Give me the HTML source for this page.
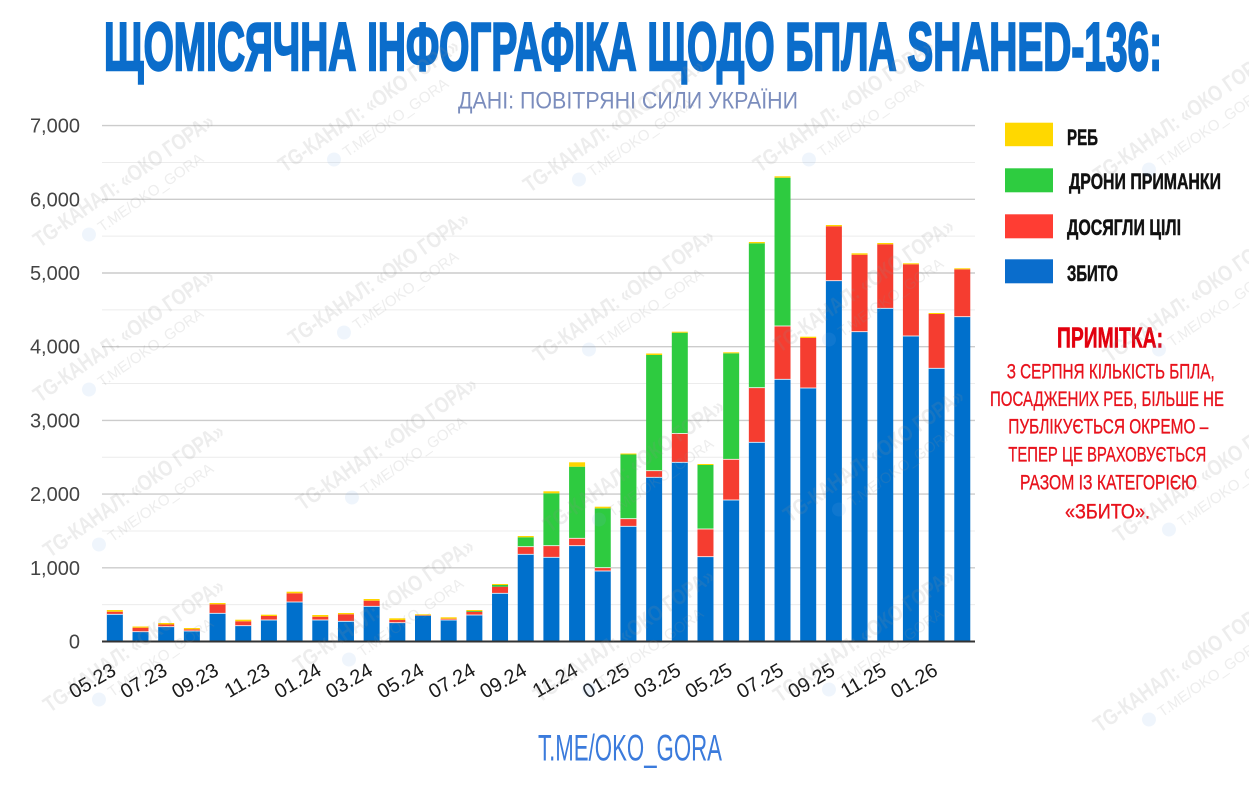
<!DOCTYPE html>
<html>
<head>
<meta charset="utf-8">
<style>
html,body{margin:0;padding:0;background:#fff;}
svg{display:block;}
.ax{font-family:"Liberation Sans",Arial,sans-serif;}
.cy{font-family:"Liberation Sans","Noto Sans CJK SC",sans-serif;}
</style>
</head>
<body>
<svg width="1249" height="785" viewBox="0 0 1249 785" xmlns="http://www.w3.org/2000/svg">
<rect width="1249" height="785" fill="#fff"/>

<!-- Title -->
<text class="cy" x="104" y="70" font-size="68" font-weight="bold" fill="#0b6dcb" stroke="#0b6dcb" stroke-width="2.4" textLength="1058" lengthAdjust="spacingAndGlyphs">ЩОМІСЯЧНА ІНФОГРАФІКА ЩОДО БПЛА SHAHED-136:</text>
<text class="cy" x="458" y="108.5" font-size="24" fill="#7b8dbd" textLength="340" lengthAdjust="spacingAndGlyphs">ДАНІ: ПОВІТРЯНІ СИЛИ УКРАЇНИ</text>

<!-- minor gridlines -->
<g stroke="#ececec" stroke-width="1">
<line x1="102" x2="975" y1="604.65" y2="604.65"/>
<line x1="102" x2="975" y1="530.95" y2="530.95"/>
<line x1="102" x2="975" y1="457.25" y2="457.25"/>
<line x1="102" x2="975" y1="383.55" y2="383.55"/>
<line x1="102" x2="975" y1="309.85" y2="309.85"/>
<line x1="102" x2="975" y1="236.15" y2="236.15"/>
<line x1="102" x2="975" y1="162.45" y2="162.45"/>
</g>
<!-- major gridlines -->
<g stroke="#cccccc" stroke-width="1.4">
<line x1="102" x2="975" y1="567.8" y2="567.8"/>
<line x1="102" x2="975" y1="494.1" y2="494.1"/>
<line x1="102" x2="975" y1="420.4" y2="420.4"/>
<line x1="102" x2="975" y1="346.7" y2="346.7"/>
<line x1="102" x2="975" y1="273" y2="273"/>
<line x1="102" x2="975" y1="199.3" y2="199.3"/>
<line x1="102" x2="975" y1="125.6" y2="125.6"/>
</g>

<!-- y labels -->
<g class="ax" font-size="20" fill="#444" text-anchor="end">
<text x="80" y="648.5">0</text>
<text x="80" y="574.8">1,000</text>
<text x="80" y="501.1">2,000</text>
<text x="80" y="427.4">3,000</text>
<text x="80" y="353.7">4,000</text>
<text x="80" y="280">5,000</text>
<text x="80" y="206.3">6,000</text>
<text x="80" y="132.6">7,000</text>
</g>

<!-- blue -->
<g fill="#0070cc">
<rect x="106.84" y="614.3" width="16" height="27.2"/>
<rect x="132.52" y="631.7" width="16" height="9.8"/>
<rect x="158.2" y="626.7" width="16" height="14.8"/>
<rect x="183.88" y="631" width="16" height="10.5"/>
<rect x="209.56" y="613.3" width="16" height="28.2"/>
<rect x="235.24" y="625.7" width="16" height="15.8"/>
<rect x="260.92" y="620" width="16" height="21.5"/>
<rect x="286.6" y="602" width="16" height="39.5"/>
<rect x="312.28" y="620" width="16" height="21.5"/>
<rect x="337.96" y="621.3" width="16" height="20.2"/>
<rect x="363.64" y="606.3" width="16" height="35.2"/>
<rect x="389.32" y="622.7" width="16" height="18.8"/>
<rect x="415" y="615.7" width="16" height="25.8"/>
<rect x="440.68" y="620" width="16" height="21.5"/>
<rect x="466.36" y="615" width="16" height="26.5"/>
<rect x="492.04" y="593.3" width="16" height="48.2"/>
<rect x="517.72" y="554.3" width="16" height="87.2"/>
<rect x="543.4" y="557.3" width="16" height="84.2"/>
<rect x="569.08" y="545.7" width="16" height="95.8"/>
<rect x="594.76" y="571" width="16" height="70.5"/>
<rect x="620.44" y="526.3" width="16" height="115.2"/>
<rect x="646.12" y="477.3" width="16" height="164.2"/>
<rect x="671.8" y="462.3" width="16" height="179.2"/>
<rect x="697.48" y="556.7" width="16" height="84.8"/>
<rect x="723.16" y="500" width="16" height="141.5"/>
<rect x="748.84" y="442.3" width="16" height="199.2"/>
<rect x="774.52" y="379.3" width="16" height="262.2"/>
<rect x="800.2" y="388" width="16" height="253.5"/>
<rect x="825.88" y="280.7" width="16" height="360.8"/>
<rect x="851.56" y="331.7" width="16" height="309.8"/>
<rect x="877.24" y="308.3" width="16" height="333.2"/>
<rect x="902.92" y="336" width="16" height="305.5"/>
<rect x="928.6" y="368.3" width="16" height="273.2"/>
<rect x="954.28" y="316.7" width="16" height="324.8"/>
</g>

<!-- red -->
<g fill="#f53d30">
<rect x="106.84" y="611.7" width="16" height="2.6"/>
<rect x="132.52" y="627.7" width="16" height="4"/>
<rect x="158.2" y="624.5" width="16" height="2.2"/>
<rect x="183.88" y="629.3" width="16" height="1.7"/>
<rect x="209.56" y="604.3" width="16" height="9"/>
<rect x="235.24" y="621.3" width="16" height="4.4"/>
<rect x="260.92" y="616" width="16" height="4"/>
<rect x="286.6" y="593.3" width="16" height="8.7"/>
<rect x="312.28" y="616.7" width="16" height="3.3"/>
<rect x="337.96" y="614.3" width="16" height="7"/>
<rect x="363.64" y="600.7" width="16" height="5.6"/>
<rect x="389.32" y="620" width="16" height="2.7"/>
<rect x="415" y="615.2" width="16" height="0.5"/>
<rect x="440.68" y="618.7" width="16" height="1.3"/>
<rect x="466.36" y="611.7" width="16" height="3.3"/>
<rect x="492.04" y="586.7" width="16" height="6.6"/>
<rect x="517.72" y="546.7" width="16" height="7.6"/>
<rect x="543.4" y="545.7" width="16" height="11.6"/>
<rect x="569.08" y="538.3" width="16" height="7.4"/>
<rect x="594.76" y="567.7" width="16" height="3.3"/>
<rect x="620.44" y="518.7" width="16" height="7.6"/>
<rect x="646.12" y="470.7" width="16" height="6.6"/>
<rect x="671.8" y="433.5" width="16" height="28.8"/>
<rect x="697.48" y="529" width="16" height="27.7"/>
<rect x="723.16" y="459.3" width="16" height="40.7"/>
<rect x="748.84" y="387.7" width="16" height="54.6"/>
<rect x="774.52" y="326" width="16" height="53.3"/>
<rect x="800.2" y="338" width="16" height="50"/>
<rect x="825.88" y="226.3" width="16" height="54.4"/>
<rect x="851.56" y="254.7" width="16" height="77"/>
<rect x="877.24" y="244.3" width="16" height="64"/>
<rect x="902.92" y="264.3" width="16" height="71.7"/>
<rect x="928.6" y="314" width="16" height="54.3"/>
<rect x="954.28" y="269.3" width="16" height="47.4"/>
</g>

<!-- green -->
<g fill="#2ecb40">
<rect x="466.36" y="611" width="16" height="0.7"/>
<rect x="492.04" y="585" width="16" height="1.7"/>
<rect x="517.72" y="537.3" width="16" height="9.4"/>
<rect x="543.4" y="493.3" width="16" height="52.4"/>
<rect x="569.08" y="466.7" width="16" height="71.6"/>
<rect x="594.76" y="508.3" width="16" height="59.4"/>
<rect x="620.44" y="454.5" width="16" height="64.2"/>
<rect x="646.12" y="355" width="16" height="115.7"/>
<rect x="671.8" y="332.7" width="16" height="100.8"/>
<rect x="697.48" y="465" width="16" height="64"/>
<rect x="723.16" y="353.3" width="16" height="106"/>
<rect x="748.84" y="243.3" width="16" height="144.4"/>
<rect x="774.52" y="177.7" width="16" height="148.3"/>
</g>

<!-- yellow -->
<g fill="#ffd500">
<rect x="106.84" y="610" width="16" height="1.7"/>
<rect x="132.52" y="626.5" width="16" height="1.2"/>
<rect x="158.2" y="623" width="16" height="1.5"/>
<rect x="183.88" y="628" width="16" height="1.3"/>
<rect x="209.56" y="603" width="16" height="1.3"/>
<rect x="235.24" y="619.7" width="16" height="1.6"/>
<rect x="260.92" y="614.7" width="16" height="1.3"/>
<rect x="286.6" y="591.7" width="16" height="1.6"/>
<rect x="312.28" y="615" width="16" height="1.7"/>
<rect x="337.96" y="613" width="16" height="1.3"/>
<rect x="363.64" y="599" width="16" height="1.7"/>
<rect x="389.32" y="618.3" width="16" height="1.7"/>
<rect x="415" y="614.3" width="16" height="0.9"/>
<rect x="440.68" y="617.3" width="16" height="1.4"/>
<rect x="466.36" y="610" width="16" height="1"/>
<rect x="492.04" y="584" width="16" height="1"/>
<rect x="517.72" y="536" width="16" height="1.3"/>
<rect x="543.4" y="491.3" width="16" height="2"/>
<rect x="569.08" y="462.3" width="16" height="4.4"/>
<rect x="594.76" y="506.7" width="16" height="1.6"/>
<rect x="620.44" y="453.5" width="16" height="1"/>
<rect x="646.12" y="353.5" width="16" height="1.5"/>
<rect x="671.8" y="331.7" width="16" height="1"/>
<rect x="697.48" y="464" width="16" height="1"/>
<rect x="723.16" y="352.3" width="16" height="1"/>
<rect x="748.84" y="242" width="16" height="1.3"/>
<rect x="774.52" y="176.3" width="16" height="1.4"/>
<rect x="800.2" y="336.7" width="16" height="1.3"/>
<rect x="825.88" y="225" width="16" height="1.3"/>
<rect x="851.56" y="253.3" width="16" height="1.4"/>
<rect x="877.24" y="243" width="16" height="1.3"/>
<rect x="902.92" y="263.3" width="16" height="1"/>
<rect x="928.6" y="313" width="16" height="1"/>
<rect x="954.28" y="268.3" width="16" height="1"/>
</g>

<!-- white separators -->
<g fill="#fff">
<rect x="106.84" y="613.9" width="16" height="0.8"/>
<rect x="132.52" y="631.3" width="16" height="0.8"/>
<rect x="158.2" y="626.3" width="16" height="0.8"/>
<rect x="183.88" y="630.6" width="16" height="0.8"/>
<rect x="209.56" y="612.9" width="16" height="0.8"/>
<rect x="235.24" y="625.3" width="16" height="0.8"/>
<rect x="260.92" y="619.6" width="16" height="0.8"/>
<rect x="286.6" y="601.6" width="16" height="0.8"/>
<rect x="312.28" y="619.6" width="16" height="0.8"/>
<rect x="337.96" y="620.9" width="16" height="0.8"/>
<rect x="363.64" y="605.9" width="16" height="0.8"/>
<rect x="389.32" y="622.3" width="16" height="0.8"/>
<rect x="440.68" y="619.6" width="16" height="0.8"/>
<rect x="466.36" y="614.6" width="16" height="0.8"/>
<rect x="492.04" y="592.9" width="16" height="0.8"/>
<rect x="517.72" y="553.9" width="16" height="0.8"/>
<rect x="543.4" y="556.9" width="16" height="0.8"/>
<rect x="569.08" y="545.3" width="16" height="0.8"/>
<rect x="594.76" y="570.6" width="16" height="0.8"/>
<rect x="620.44" y="525.9" width="16" height="0.8"/>
<rect x="646.12" y="476.9" width="16" height="0.8"/>
<rect x="671.8" y="461.9" width="16" height="0.8"/>
<rect x="697.48" y="556.3" width="16" height="0.8"/>
<rect x="723.16" y="499.6" width="16" height="0.8"/>
<rect x="748.84" y="441.9" width="16" height="0.8"/>
<rect x="774.52" y="378.9" width="16" height="0.8"/>
<rect x="800.2" y="387.6" width="16" height="0.8"/>
<rect x="825.88" y="280.3" width="16" height="0.8"/>
<rect x="851.56" y="331.3" width="16" height="0.8"/>
<rect x="877.24" y="307.9" width="16" height="0.8"/>
<rect x="902.92" y="335.6" width="16" height="0.8"/>
<rect x="928.6" y="367.9" width="16" height="0.8"/>
<rect x="954.28" y="316.3" width="16" height="0.8"/>
<rect x="517.72" y="546.3" width="16" height="0.8"/>
<rect x="543.4" y="545.3" width="16" height="0.8"/>
<rect x="569.08" y="537.9" width="16" height="0.8"/>
<rect x="594.76" y="567.3" width="16" height="0.8"/>
<rect x="620.44" y="518.3" width="16" height="0.8"/>
<rect x="646.12" y="470.3" width="16" height="0.8"/>
<rect x="671.8" y="433.1" width="16" height="0.8"/>
<rect x="697.48" y="528.6" width="16" height="0.8"/>
<rect x="723.16" y="458.9" width="16" height="0.8"/>
<rect x="748.84" y="387.3" width="16" height="0.8"/>
<rect x="774.52" y="325.6" width="16" height="0.8"/>
</g>

<!-- baseline -->
<line x1="102" x2="975" y1="641.5" y2="641.5" stroke="#333" stroke-width="2"/>

<!-- x labels -->
<g class="ax" font-size="20" fill="#1a1a1a" text-anchor="end">
<text transform="translate(117.34,674) rotate(-30)">05.23</text>
<text transform="translate(168.7,674) rotate(-30)">07.23</text>
<text transform="translate(220.06,674) rotate(-30)">09.23</text>
<text transform="translate(271.42,674) rotate(-30)">11.23</text>
<text transform="translate(322.78,674) rotate(-30)">01.24</text>
<text transform="translate(374.14,674) rotate(-30)">03.24</text>
<text transform="translate(425.5,674) rotate(-30)">05.24</text>
<text transform="translate(476.86,674) rotate(-30)">07.24</text>
<text transform="translate(528.22,674) rotate(-30)">09.24</text>
<text transform="translate(579.58,674) rotate(-30)">11.24</text>
<text transform="translate(630.94,674) rotate(-30)">01.25</text>
<text transform="translate(682.3,674) rotate(-30)">03.25</text>
<text transform="translate(733.66,674) rotate(-30)">05.25</text>
<text transform="translate(785.02,674) rotate(-30)">07.25</text>
<text transform="translate(836.38,674) rotate(-30)">09.25</text>
<text transform="translate(887.74,674) rotate(-30)">11.25</text>
<text transform="translate(939.1,674) rotate(-30)">01.26</text>
</g>

<!-- legend -->
<rect x="1005" y="122.7" width="48" height="23.5" fill="#ffd800"/>
<rect x="1005" y="168.3" width="48" height="24" fill="#2ecc40"/>
<rect x="1005" y="214.3" width="48" height="24" fill="#ff3d33"/>
<rect x="1005" y="259.3" width="48" height="24" fill="#0a6dcc"/>
<g class="cy" font-size="22" font-weight="bold" fill="#111" stroke="#111" stroke-width="0.5">
<text x="1067" y="145" textLength="31" lengthAdjust="spacingAndGlyphs">РЕБ</text>
<text x="1069" y="189" textLength="152" lengthAdjust="spacingAndGlyphs">ДРОНИ ПРИМАНКИ</text>
<text x="1067" y="235" textLength="114" lengthAdjust="spacingAndGlyphs">ДОСЯГЛИ ЦІЛІ</text>
<text x="1067" y="281" textLength="51" lengthAdjust="spacingAndGlyphs">ЗБИТО</text>
</g>

<!-- note -->
<text class="cy" x="1057" y="347.7" font-size="29" font-weight="bold" fill="#e2000e" stroke="#e2000e" stroke-width="0.6" textLength="106" lengthAdjust="spacingAndGlyphs">ПРИМІТКА:</text>
<g class="cy" font-size="21" fill="#e8121c" stroke="#e8121c" stroke-width="0.35">
<text x="1006.7" y="378.3" textLength="208" lengthAdjust="spacingAndGlyphs">З СЕРПНЯ КІЛЬКІСТЬ БПЛА,</text>
<text x="990" y="406" textLength="234" lengthAdjust="spacingAndGlyphs">ПОСАДЖЕНИХ РЕБ, БІЛЬШЕ НЕ</text>
<text x="1008.3" y="433.3" textLength="200" lengthAdjust="spacingAndGlyphs">ПУБЛІКУЄТЬСЯ ОКРЕМО –</text>
<text x="1008.3" y="461.7" textLength="198" lengthAdjust="spacingAndGlyphs">ТЕПЕР ЦЕ ВРАХОВУЄТЬСЯ</text>
<text x="1020" y="489.3" textLength="177" lengthAdjust="spacingAndGlyphs">РАЗОМ ІЗ КАТЕГОРІЄЮ</text>
<text x="1065" y="518.3" textLength="85" lengthAdjust="spacingAndGlyphs">«ЗБИТО».</text>
</g>

<!-- footer -->
<text class="cy" x="538" y="760.5" font-size="37" fill="#3b7bdc" textLength="184" lengthAdjust="spacingAndGlyphs">T.ME/OKO_GORA</text>

<!-- watermarks -->
<g class="cy" fill="rgba(140,140,140,0.16)">
<g transform="translate(130,185) rotate(-35)"><text x="-110" y="0" font-size="22" font-weight="bold" textLength="215" lengthAdjust="spacingAndGlyphs">TG-КАНАЛ: «ОКО ГОРА»</text><circle cx="-62" cy="17" r="7" fill="rgba(120,170,230,0.12)"/><text x="-50" y="23" font-size="15" textLength="125" lengthAdjust="spacingAndGlyphs">T.ME/OKO_GORA</text></g>
<g transform="translate(130,340) rotate(-35)"><text x="-110" y="0" font-size="22" font-weight="bold" textLength="215" lengthAdjust="spacingAndGlyphs">TG-КАНАЛ: «ОКО ГОРА»</text><circle cx="-62" cy="17" r="7" fill="rgba(120,170,230,0.12)"/><text x="-50" y="23" font-size="15" textLength="125" lengthAdjust="spacingAndGlyphs">T.ME/OKO_GORA</text></g>
<g transform="translate(140,495) rotate(-35)"><text x="-110" y="0" font-size="22" font-weight="bold" textLength="215" lengthAdjust="spacingAndGlyphs">TG-КАНАЛ: «ОКО ГОРА»</text><circle cx="-62" cy="17" r="7" fill="rgba(120,170,230,0.12)"/><text x="-50" y="23" font-size="15" textLength="125" lengthAdjust="spacingAndGlyphs">T.ME/OKO_GORA</text></g>
<g transform="translate(140,650) rotate(-35)"><text x="-110" y="0" font-size="22" font-weight="bold" textLength="215" lengthAdjust="spacingAndGlyphs">TG-КАНАЛ: «ОКО ГОРА»</text><circle cx="-62" cy="17" r="7" fill="rgba(120,170,230,0.12)"/><text x="-50" y="23" font-size="15" textLength="125" lengthAdjust="spacingAndGlyphs">T.ME/OKO_GORA</text></g>
<g transform="translate(375,110) rotate(-35)"><text x="-110" y="0" font-size="22" font-weight="bold" textLength="215" lengthAdjust="spacingAndGlyphs">TG-КАНАЛ: «ОКО ГОРА»</text><circle cx="-62" cy="17" r="7" fill="rgba(120,170,230,0.12)"/><text x="-50" y="23" font-size="15" textLength="125" lengthAdjust="spacingAndGlyphs">T.ME/OKO_GORA</text></g>
<g transform="translate(385,283) rotate(-35)"><text x="-110" y="0" font-size="22" font-weight="bold" textLength="215" lengthAdjust="spacingAndGlyphs">TG-КАНАЛ: «ОКО ГОРА»</text><circle cx="-62" cy="17" r="7" fill="rgba(120,170,230,0.12)"/><text x="-50" y="23" font-size="15" textLength="125" lengthAdjust="spacingAndGlyphs">T.ME/OKO_GORA</text></g>
<g transform="translate(393,448) rotate(-35)"><text x="-110" y="0" font-size="22" font-weight="bold" textLength="215" lengthAdjust="spacingAndGlyphs">TG-КАНАЛ: «ОКО ГОРА»</text><circle cx="-62" cy="17" r="7" fill="rgba(120,170,230,0.12)"/><text x="-50" y="23" font-size="15" textLength="125" lengthAdjust="spacingAndGlyphs">T.ME/OKO_GORA</text></g>
<g transform="translate(390,610) rotate(-35)"><text x="-110" y="0" font-size="22" font-weight="bold" textLength="215" lengthAdjust="spacingAndGlyphs">TG-КАНАЛ: «ОКО ГОРА»</text><circle cx="-62" cy="17" r="7" fill="rgba(120,170,230,0.12)"/><text x="-50" y="23" font-size="15" textLength="125" lengthAdjust="spacingAndGlyphs">T.ME/OKO_GORA</text></g>
<g transform="translate(620,130) rotate(-35)"><text x="-110" y="0" font-size="22" font-weight="bold" textLength="215" lengthAdjust="spacingAndGlyphs">TG-КАНАЛ: «ОКО ГОРА»</text><circle cx="-62" cy="17" r="7" fill="rgba(120,170,230,0.12)"/><text x="-50" y="23" font-size="15" textLength="125" lengthAdjust="spacingAndGlyphs">T.ME/OKO_GORA</text></g>
<g transform="translate(630,300) rotate(-35)"><text x="-110" y="0" font-size="22" font-weight="bold" textLength="215" lengthAdjust="spacingAndGlyphs">TG-КАНАЛ: «ОКО ГОРА»</text><circle cx="-62" cy="17" r="7" fill="rgba(120,170,230,0.12)"/><text x="-50" y="23" font-size="15" textLength="125" lengthAdjust="spacingAndGlyphs">T.ME/OKO_GORA</text></g>
<g transform="translate(640,470) rotate(-35)"><text x="-110" y="0" font-size="22" font-weight="bold" textLength="215" lengthAdjust="spacingAndGlyphs">TG-КАНАЛ: «ОКО ГОРА»</text><circle cx="-62" cy="17" r="7" fill="rgba(120,170,230,0.12)"/><text x="-50" y="23" font-size="15" textLength="125" lengthAdjust="spacingAndGlyphs">T.ME/OKO_GORA</text></g>
<g transform="translate(630,640) rotate(-35)"><text x="-110" y="0" font-size="22" font-weight="bold" textLength="215" lengthAdjust="spacingAndGlyphs">TG-КАНАЛ: «ОКО ГОРА»</text><circle cx="-62" cy="17" r="7" fill="rgba(120,170,230,0.12)"/><text x="-50" y="23" font-size="15" textLength="125" lengthAdjust="spacingAndGlyphs">T.ME/OKO_GORA</text></g>
<g transform="translate(850,110) rotate(-35)"><text x="-110" y="0" font-size="22" font-weight="bold" textLength="215" lengthAdjust="spacingAndGlyphs">TG-КАНАЛ: «ОКО ГОРА»</text><circle cx="-62" cy="17" r="7" fill="rgba(120,170,230,0.12)"/><text x="-50" y="23" font-size="15" textLength="125" lengthAdjust="spacingAndGlyphs">T.ME/OKO_GORA</text></g>
<g transform="translate(870,290) rotate(-35)"><text x="-110" y="0" font-size="22" font-weight="bold" textLength="215" lengthAdjust="spacingAndGlyphs">TG-КАНАЛ: «ОКО ГОРА»</text><circle cx="-62" cy="17" r="7" fill="rgba(120,170,230,0.12)"/><text x="-50" y="23" font-size="15" textLength="125" lengthAdjust="spacingAndGlyphs">T.ME/OKO_GORA</text></g>
<g transform="translate(880,460) rotate(-35)"><text x="-110" y="0" font-size="22" font-weight="bold" textLength="215" lengthAdjust="spacingAndGlyphs">TG-КАНАЛ: «ОКО ГОРА»</text><circle cx="-62" cy="17" r="7" fill="rgba(120,170,230,0.12)"/><text x="-50" y="23" font-size="15" textLength="125" lengthAdjust="spacingAndGlyphs">T.ME/OKO_GORA</text></g>
<g transform="translate(870,640) rotate(-35)"><text x="-110" y="0" font-size="22" font-weight="bold" textLength="215" lengthAdjust="spacingAndGlyphs">TG-КАНАЛ: «ОКО ГОРА»</text><circle cx="-62" cy="17" r="7" fill="rgba(120,170,230,0.12)"/><text x="-50" y="23" font-size="15" textLength="125" lengthAdjust="spacingAndGlyphs">T.ME/OKO_GORA</text></g>
<g transform="translate(1190,120) rotate(-35)"><text x="-110" y="0" font-size="22" font-weight="bold" textLength="215" lengthAdjust="spacingAndGlyphs">TG-КАНАЛ: «ОКО ГОРА»</text><circle cx="-62" cy="17" r="7" fill="rgba(120,170,230,0.12)"/><text x="-50" y="23" font-size="15" textLength="125" lengthAdjust="spacingAndGlyphs">T.ME/OKO_GORA</text></g>
<g transform="translate(1200,300) rotate(-35)"><text x="-110" y="0" font-size="22" font-weight="bold" textLength="215" lengthAdjust="spacingAndGlyphs">TG-КАНАЛ: «ОКО ГОРА»</text><circle cx="-62" cy="17" r="7" fill="rgba(120,170,230,0.12)"/><text x="-50" y="23" font-size="15" textLength="125" lengthAdjust="spacingAndGlyphs">T.ME/OKO_GORA</text></g>
<g transform="translate(1210,480) rotate(-35)"><text x="-110" y="0" font-size="22" font-weight="bold" textLength="215" lengthAdjust="spacingAndGlyphs">TG-КАНАЛ: «ОКО ГОРА»</text><circle cx="-62" cy="17" r="7" fill="rgba(120,170,230,0.12)"/><text x="-50" y="23" font-size="15" textLength="125" lengthAdjust="spacingAndGlyphs">T.ME/OKO_GORA</text></g>
<g transform="translate(1190,670) rotate(-35)"><text x="-110" y="0" font-size="22" font-weight="bold" textLength="215" lengthAdjust="spacingAndGlyphs">TG-КАНАЛ: «ОКО ГОРА»</text><circle cx="-62" cy="17" r="7" fill="rgba(120,170,230,0.12)"/><text x="-50" y="23" font-size="15" textLength="125" lengthAdjust="spacingAndGlyphs">T.ME/OKO_GORA</text></g>
</g>
</svg>
</body>
</html>
